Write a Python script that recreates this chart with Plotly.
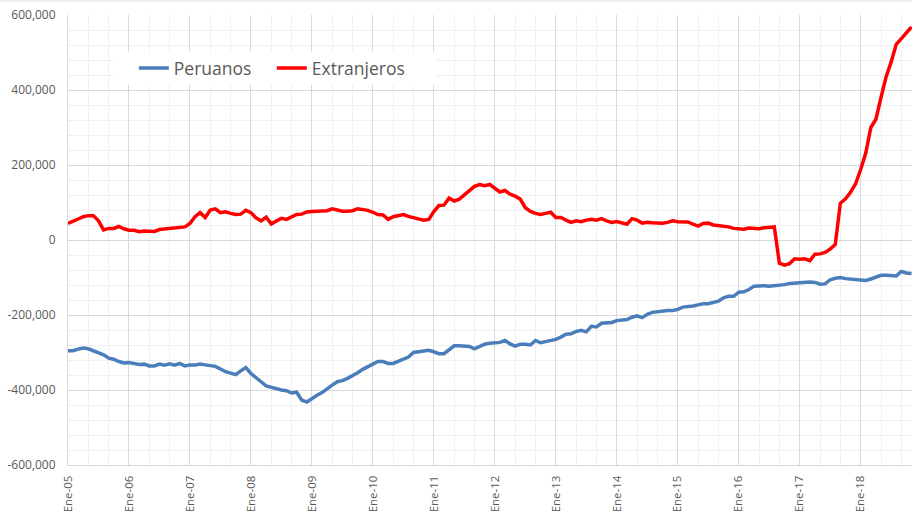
import plotly.graph_objects as go

# Monthly series, Jan 2005 .. Nov 2018 (values in thousands)
peruanos_k = [
    -295, -295, -291, -288, -290, -296, -300, -306, -315, -318, -324, -328,
    -327, -329, -332, -331, -336, -336, -331, -334, -330, -334, -329, -336,
    -333, -333, -331, -333, -336, -337, -344, -351, -355, -359, -349, -340,
    -356, -366, -378, -389, -393, -396, -400, -402, -408, -406, -427, -432,
    -422, -414, -407, -396, -387, -378, -375, -369, -362, -354, -345, -338,
    -330, -324, -324, -329, -329, -323, -316, -312, -300, -298, -297, -294,
    -298, -303, -303, -292, -282, -282, -283, -284, -290, -284, -278, -275,
    -275, -273, -268, -277, -283, -278, -278, -280, -268, -274, -271, -268,
    -265, -259, -251, -250, -244, -241, -245, -230, -232, -222, -220, -220,
    -215, -213, -212, -206, -202, -207, -198, -193, -191, -188, -188, -188,
    -185, -179, -178, -176, -173, -170, -170, -166, -163, -154, -150, -150,
    -139, -138, -132, -123, -122, -122, -123, -122, -119, -119, -116, -115,
    -113, -113, -112, -113, -118, -117, -106, -102, -100, -103, -104, -104,
    -106, -108, -104, -100, -94, -94, -96, -96, -84, -88, -89,
]
extranjeros_k = [
    44, 49, 56, 62, 65, 65, 51, 27, 31, 31, 36, 30,
    26, 26, 22, 24, 23, 23, 28, 29, 31, 33, 34, 35,
    44, 62, 73, 60, 80, 83, 73, 75, 71, 68, 69, 79,
    73, 59, 51, 61, 43, 51, 58, 55, 61, 68, 69, 75,
    76, 76, 76, 78, 83, 80, 77, 77, 78, 83, 81, 79,
    74, 68, 67, 55, 62, 64, 68, 63, 60, 56, 53, 55,
    76, 92, 93, 112, 104, 109, 121, 133, 143, 148, 145, 148,
    139, 128, 132, 122, 117, 109, 86, 76, 71, 68, 71, 74,
    60, 60, 53, 47, 51, 49, 53, 55, 53, 57, 51, 47,
    49, 46, 42, 57, 53, 45, 47, 46, 45, 45, 47, 51,
    49, 48, 48, 42, 37, 44, 45, 40, 39, 38, 35, 31,
    30, 29, 32, 30, 30, 33, 35, 35, -62, -67, -63, -50,
    -51, -50, -55, -38, -37, -33, -24, -12, 98, 110, 127, 150,
    188, 232, 300, 322, 380, 435, 475, 522, 537, 551, 568,
]
peruanos = [v * 1000 for v in peruanos_k]
extranjeros = [v * 1000 for v in extranjeros_k]

years = ["05", "06", "07", "08", "09", "10", "11", "12", "13", "14", "15", "16", "17", "18"]
x_ticktext = ["Ene-" + y for y in years]
y_tickvals = [600000, 400000, 200000, 0, -200000, -400000, -600000]
y_ticktext = ["600,000", "400,000", "200,000", "0", "-200,000", "-400,000", "-600,000"]

months = list(range(len(peruanos)))

fig = go.Figure()
fig.add_trace(go.Scatter(x=months, y=peruanos, mode="lines", name="Peruanos",
                         line=dict(color="#4A7EBB", width=3.5)))
fig.add_trace(go.Scatter(x=months, y=extranjeros, mode="lines", name="Extranjeros",
                         line=dict(color="#FF0000", width=3.5)))

grid_major = "#D9D9D9"
grid_minor = "#F0F0F0"
tfont = dict(family="Open Sans", size=12, color="#595959")
xfont = dict(family="Open Sans", size=11.5, color="#595959")

fig.update_layout(
    width=912, height=511,
    margin=dict(l=68, r=0, t=15, b=46),
    paper_bgcolor="white", plot_bgcolor="white",
    showlegend=True,
    legend=dict(orientation="h", x=0.078, xanchor="left", y=0.882, yanchor="middle",
                bgcolor="rgba(0,0,0,0)", font=dict(family="Open Sans", size=17.5, color="#595959"),
                itemwidth=30, entrywidth=93),
    shapes=[
        dict(type="rect", xref="paper", yref="paper",
             x0=(113 - 68) / 844, x1=(436 - 68) / 844,
             y0=(465 - 85) / 450, y1=(465 - 52) / 450,
             fillcolor="white", line=dict(width=0), layer="above"),
        dict(type="line", xref="paper", yref="paper",
             x0=-0.1, x1=1.0, y0=(465 - 1.0) / 450, y1=(465 - 1.0) / 450,
             line=dict(color="#D9D9D9", width=1)),
    ],
)
fig.update_xaxes(
    range=[0, 166.1], automargin=False,
    tickmode="array", tickvals=[12 * i for i in range(len(x_ticktext))], ticktext=x_ticktext,
    tickangle=-90, tickfont=xfont, ticklabelstandoff=5,
    showgrid=True, gridcolor=grid_major, gridwidth=1,
    minor=dict(dtick=4, tick0=0, showgrid=True, gridcolor=grid_minor, gridwidth=1),
    showline=True, linecolor=grid_major, linewidth=1,
    zeroline=False, ticks="",
)
fig.update_yaxes(
    range=[-600000, 600000], automargin=False,
    tickmode="array", tickvals=y_tickvals, ticktext=y_ticktext,
    tickfont=tfont,
    showgrid=True, gridcolor=grid_major, gridwidth=1,
    minor=dict(dtick=40000, tick0=0, showgrid=True, gridcolor=grid_minor, gridwidth=1),
    showline=True, linecolor=grid_major, linewidth=1,
    zeroline=False, ticks="", ticklabelstandoff=9,
)

fig.write_html(
    "out.html",
    config={"displayModeBar": False},
    post_script="document.body.style.margin='0';document.body.style.overflow='hidden';",
)
